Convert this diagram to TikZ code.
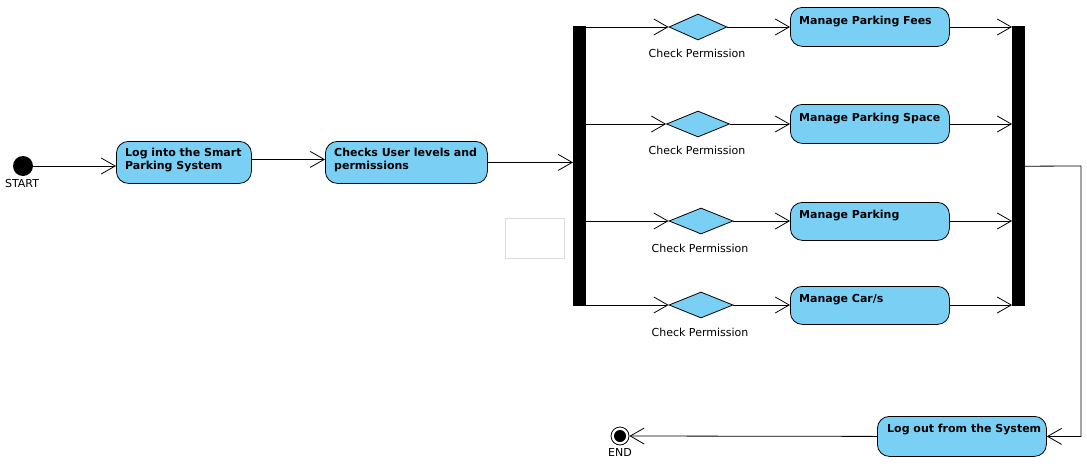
\documentclass[tikz,border=0pt]{standalone}
\usepackage{fontspec}
\setmainfont{DejaVu Sans}
\usetikzlibrary{arrows.meta,shapes.geometric}
\definecolor{actblue}{RGB}{122,207,245}
\definecolor{boxgray}{RGB}{220,220,220}
\begin{document}
\begin{tikzpicture}[x=1pt,y=-1pt,
  act/.style={draw, rounded corners=12pt, fill=actblue, line width=0.8pt, inner sep=0pt, anchor=north west},
  bar/.style={fill=black, draw=none, inner sep=0pt, anchor=north west, minimum width=12.5pt, minimum height=280pt},
  dec/.style={diamond, draw, fill=actblue, line width=0.8pt, inner sep=0pt, minimum width=60pt, minimum height=26pt},
  btxt/.style={anchor=base west, inner sep=0pt, font=\fontsize{11}{13}\selectfont\bfseries, align=left},
  ltxt/.style={anchor=base, inner sep=0pt, font=\fontsize{11}{13}\selectfont},
  arr/.style={line width=0.8pt, -{Straight Barb[length=14pt,width=16pt,line width=0.8pt]}},
  ln/.style={line width=0.8pt}
]
\useasboundingbox (0,0) rectangle (1087,469);

% start / end
\node[circle, fill=black, inner sep=0pt, minimum size=20pt] (start) at (23,166) {};
\node[ltxt] (startlbl) at (22,187) {START};
\node[circle, draw, line width=0.8pt, fill=white, inner sep=0pt, minimum size=18pt] (endo) at (620,436) {};
\node[circle, fill=black, inner sep=0pt, minimum size=12pt] (endi) at (620,436) {};
\node[ltxt] (endlbl) at (620,456) {END};

% first actions
\node[act, minimum width=135pt, minimum height=42pt] (login) at (116,141) {};
\node[btxt] (logintxt) at (125,169) {Log into the Smart\\Parking System};
\node[act, minimum width=162pt, minimum height=42pt] (checks) at (325,141) {};
\node[btxt] (checkstxt) at (334,169) {Checks User levels and\\permissions};

% bars
\node[bar] (fork) at (573,26) {};
\node[bar] (join) at (1012,26) {};

% empty gray box
\node[draw=boxgray, line width=0.8pt, inner sep=0pt, anchor=north west, minimum width=59pt, minimum height=40pt] (empty) at (505,218) {};

% decisions
\node[dec, minimum width=58pt] (d1) at (698,27) {};
\node[dec, minimum width=63pt] (d2) at (698,124) {};
\node[dec, minimum width=64pt] (d3) at (701,221) {};
\node[dec, minimum width=64pt] (d4) at (701,305) {};
\node[ltxt] (l1) at (697,57) {Check Permission};
\node[ltxt] (l2) at (697,154) {Check Permission};
\node[ltxt] (l3) at (700,252) {Check Permission};
\node[ltxt] (l4) at (700,336) {Check Permission};

% actions in branches
\node[act, minimum width=159pt, minimum height=39pt] (f1) at (790,7) {};
\node[btxt] (t1) at (799,24) {Manage Parking Fees};
\node[act, minimum width=159pt, minimum height=39pt] (f2) at (790,104) {};
\node[btxt] (t2) at (799,121) {Manage Parking Space};
\node[act, minimum width=159pt, minimum height=38pt] (f3) at (790,202) {};
\node[btxt] (t3) at (799,218) {Manage Parking};
\node[act, minimum width=159pt, minimum height=38pt] (f4) at (790,286) {};
\node[btxt] (t4) at (799,302) {Manage Car/s};

% logout
\node[act, minimum width=169pt, minimum height=40pt] (logout) at (877,416) {};
\node[btxt] (logouttxt) at (887,432) {Log out from the System};

% connectors
\draw[arr] (start.east) -- (start.east -| login.west);
\draw[arr] ([yshift=3pt]login.east) -- ([yshift=3pt]login.east -| checks.west);
\draw[arr] (checks.east) -- (checks.east -| fork.west);

\foreach \d/\f in {d1/f1,d2/f2,d3/f3,d4/f4}{
  \draw[arr] (\d.west -| fork.east) -- (\d.west);
  \draw[arr] (\d.east) -- (\d.east -| \f.west);
  \draw[arr] (\d.east -| \f.east) -- (\d.east -| join.west);
}

\coordinate (turn) at (1081,166);
\draw[arr] (join.east) -- (turn) |- (logout.east);
\draw[arr] (logout.west) -- (endo.east);
\end{tikzpicture}
\end{document}
